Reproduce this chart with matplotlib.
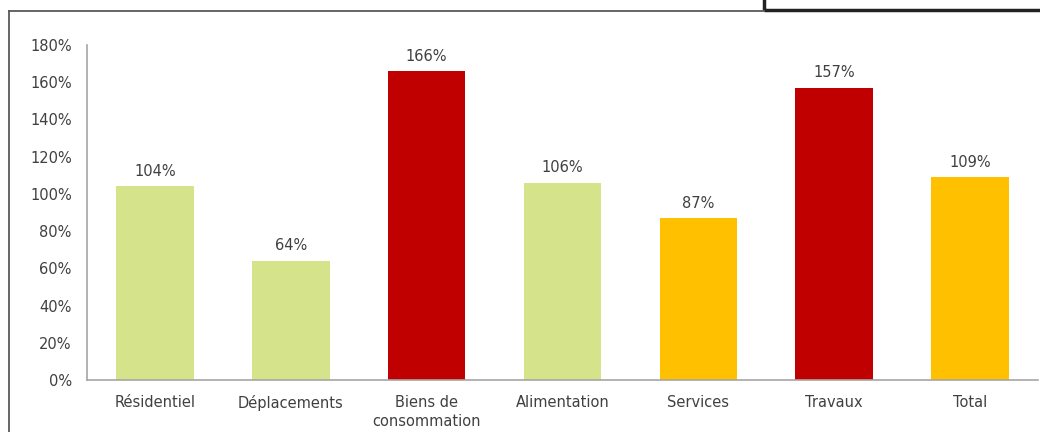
import matplotlib
matplotlib.use('Agg')
import matplotlib.pyplot as plt
from matplotlib.lines import Line2D
from matplotlib.patches import Rectangle

# data
categories = ['Résidentiel', 'Déplacements', 'Biens de\nconsommation', 'Alimentation',
              'Services', 'Travaux', 'Total']
values = [104, 64, 166, 106, 87, 157, 109]
bar_colors = ['#D5E48A', '#D5E48A', '#C00000', '#D5E48A', '#FFC000', '#C00000', '#FFC000']
yticks = [0, 20, 40, 60, 80, 100, 120, 140, 160, 180]

plt.rcParams['font.family'] = ['DejaVu Sans']
text_color = '#404040'
fs = 10.5

W, H = 1040, 432
fig = plt.figure(figsize=(W / 100, H / 100), dpi=100)
ax = fig.add_axes([87 / W, 1 - 380 / H, (1038 - 87) / W, (380 - 45) / H])

x = list(range(len(categories)))
bars = ax.bar(x, values, width=0.57, color=bar_colors, zorder=2)

for b, v in zip(bars, values):
    ax.text(b.get_x() + b.get_width() / 2, v + 4, f'{v}%', ha='center', va='bottom',
            fontsize=fs, color=text_color)

ax.set_xlim(-0.5, len(categories) - 0.5)
ax.set_ylim(0, 180)
ax.set_yticks(yticks)
ax.set_yticklabels([f'{t}%' for t in yticks], fontsize=fs, color=text_color)
ax.set_xticks(x)
ax.set_xticklabels(categories, fontsize=fs, color=text_color, linespacing=1.35)
ax.tick_params(axis='both', length=0)
ax.tick_params(axis='y', pad=11)
ax.tick_params(axis='x', pad=11)

for s in ['top', 'right']:
    ax.spines[s].set_visible(False)
ax.spines['left'].set_color('#A6A6A6')
ax.spines['bottom'].set_color('#A6A6A6')
ax.spines['left'].set_linewidth(1.2)
ax.spines['bottom'].set_linewidth(1.2)

# outer frame of the slide (partly cut off)
fig.add_artist(Line2D([9 / W, 9 / W], [0, 1 - 11 / H], color='#595959', lw=1.3))
fig.add_artist(Line2D([9 / W, 764 / W], [1 - 11 / H, 1 - 11 / H], color='#595959', lw=1.3))
# box at top right
fig.add_artist(Rectangle((764 / W, 1 - 10 / H), 300 / W, 30 / H, fill=False,
                         edgecolor='#222222', lw=2.5, clip_on=False))

fig.savefig('out.png', dpi=100)
